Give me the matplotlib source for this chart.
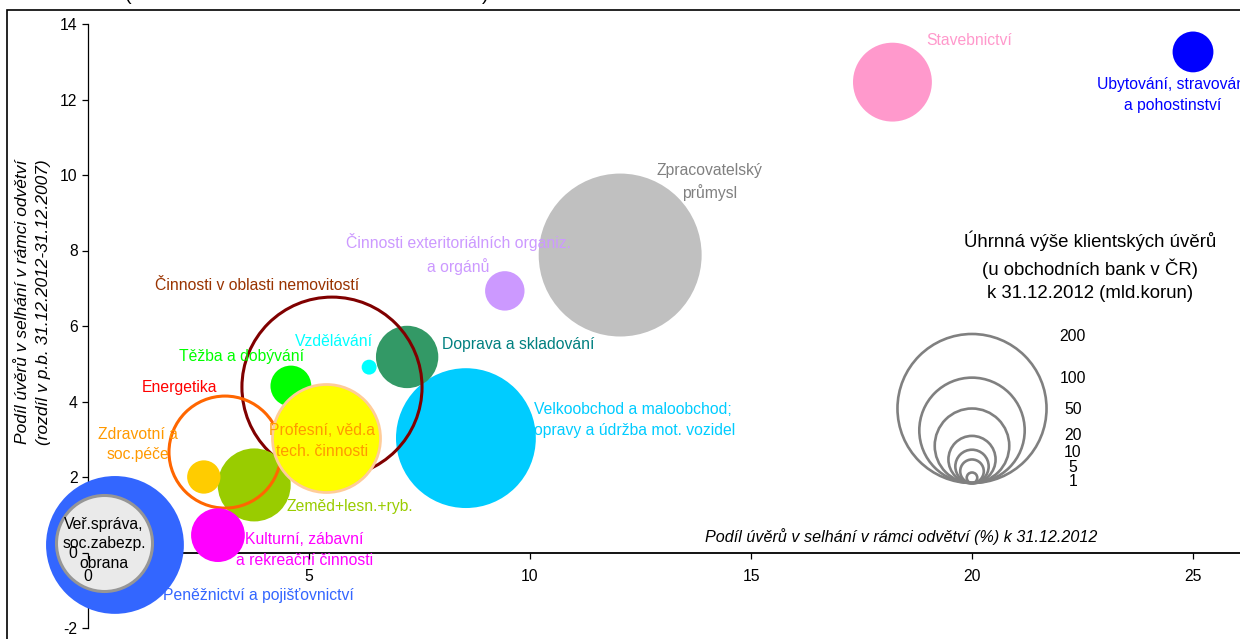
import numpy as np
import matplotlib.pyplot as plt
from matplotlib.patches import Rectangle

plt.rcParams['font.family'] = ['Liberation Sans', 'DejaVu Sans']
plt.rcParams['axes.unicode_minus'] = False

# sector data
sectors = ["Zpracovatelský\nprůmysl", "Stavebnictví", "Ubytování, stravování\na pohostinství",
           "Činnosti exteritoriálních organiz.\na orgánů",
           "Velkoobchod a maloobchod;\nopravy a údržba mot. vozidel", "Doprava a skladování",
           "Vzdělávání", "Těžba a dobývání", "Činnosti v oblasti nemovitostí", "Zeměd+lesn.+ryb.",
           "Energetika", "Zdravotní a\nsoc.péče", "Profesní, věd.a\ntech. činnosti",
           "Kulturní, zábavní\na rekreační činnosti", "Peněžnictví a pojišťovnictví",
           "Veř.správa,\nsoc.zabezp.\nobrana"]
npl_share = [12.04, 18.2, 25.0, 9.43, 8.55, 7.22, 6.36, 4.59, 5.52, 3.76, 3.10, 2.62, 5.38, 2.94, 0.61, 0.36]
npl_change = [7.88, 12.46, 13.26, 6.93, 3.03, 5.18, 4.91, 4.41, 4.38, 1.79, 2.66, 2.0, 3.03, 0.46, 0.2, 0.25]
loans = [239, 56, 15, 14, 176, 35, 2, 15, 292, 48, 113, 10, 105, 26, 171, 83]

legend_values = [200, 100, 50, 20, 10, 5, 1]
x_ticks = [0, 5, 10, 15, 20, 25]
y_ticks = [-2, 0, 2, 4, 6, 8, 10, 12, 14]

# styles
fill_colors = ["#C0C0C0", "#FF99CC", "#0000FF", "#CC99FF", "#00CCFF", "#339966", "#00FFFF", "#00FF00",
               "none", "#99CC00", "none", "#FFCC00", "#FFFF00", "#FF00FF", "#3366FF", "#EAEAEA"]
edge_colors = ["none", "none", "none", "none", "none", "none", "none", "none",
               "#800000", "none", "#FF6600", "none", "#FFCC99", "none", "none", "#969696"]
edge_widths = [0, 0, 0, 0, 0, 0, 0, 0, 2.2, 0, 2.2, 0, 2.0, 0, 0, 2.2]
label_colors = ["#808080", "#FF99CC", "#0000FF", "#CC99FF", "#00CCFF", "#008080", "#00FFFF", "#00FF00",
                "#993300", "#99CC00", "#FF0000", "#FF9900", "#FF9900", "#FF00FF", "#3366FF", "#000000"]
label_pos = [(14.07, 9.81, 'center'), (19.93, 13.55, 'center'), (24.55, 12.12, 'center'),
             (8.37, 7.91, 'center'), (10.09, 3.51, 'left'), (8.01, 5.5, 'left'),
             (5.57, 5.58, 'center'), (3.48, 5.18, 'center'), (3.82, 7.06, 'center'),
             (4.48, 1.21, 'left'), (2.06, 4.38, 'center'), (1.13, 2.86, 'center'),
             (5.29, 2.95, 'center'), (4.89, 0.07, 'center'), (3.85, -1.13, 'center'),
             (0.36, 0.23, 'center')]
legend_label_y = [5.73, 4.62, 3.78, 3.09, 2.64, 2.24, 1.87]

W, H = 1240, 639
fig = plt.figure(figsize=(W / 100, H / 100), dpi=100)
ax_left, ax_right, ax_top, ax_bottom = 88, 1240, 24, 628
ax = fig.add_axes([ax_left / W, (H - ax_bottom) / H, (ax_right - ax_left) / W, (ax_bottom - ax_top) / H])
px_per_x = 44.2
ax.set_xlim(0, (ax_right - ax_left) / px_per_x)
ax.set_ylim(-2, 14)
px_per_y = (ax_bottom - ax_top) / 16.0

# bubble area proportional to loans
px_per_sqrt = 10.54
size_k = (px_per_sqrt * 0.72) ** 2

for i in range(len(sectors)):
    ax.scatter(npl_share[i], npl_change[i], s=size_k * loans[i], facecolors=fill_colors[i],
               edgecolors=edge_colors[i], linewidths=edge_widths[i], zorder=3 + i * 0.01, clip_on=False)
    x, y, ha = label_pos[i]
    ax.text(x, y, sectors[i], color=label_colors[i], fontsize=11.3, ha=ha, va='center',
            multialignment=ha, linespacing=1.48 if i < 15 else 1.4, zorder=10)

# size legend
leg_x = 20
leg_bottom = 1.84
for v in legend_values:
    d = px_per_sqrt * np.sqrt(v)
    ax.scatter(leg_x, leg_bottom + d / 2 / px_per_y, s=size_k * v, facecolors='none',
               edgecolors='#808080', linewidths=1.9, zorder=3, clip_on=False)
for v, ly in zip(legend_values, legend_label_y):
    ax.text(22.28, ly, str(v), fontsize=11.3, ha='center', va='center', zorder=10)
ax.text(22.67, 7.59, "Úhrnná výše klientských úvěrů\n(u obchodních bank v ČR)\nk 31.12.2012 (mld.korun)",
        fontsize=13.4, ha='center', va='center', linespacing=1.45, zorder=10)

# axes crossing at zero
ax.spines['top'].set_visible(False)
ax.spines['right'].set_visible(False)
ax.spines['bottom'].set_position(('data', 0))
ax.spines['bottom'].set_linewidth(1.3)
ax.spines['left'].set_linewidth(0.9)
for sp in ax.spines.values():
    sp.set_zorder(1)
ax.xaxis.set_zorder(12)
ax.yaxis.set_zorder(12)
ax.set_xticks(x_ticks)
ax.set_yticks(y_ticks)
ax.tick_params(axis='x', direction='out', length=4.5, width=0.9, labelsize=11.3, pad=7.5)
ax.tick_params(axis='y', direction='out', length=4, width=0.9, labelsize=11.3, pad=3.5)
ax.patch.set_visible(False)

ax.text(0.5 * (705 + 1098) / px_per_x - ax_left / px_per_x, 0.43, "Podíl úvěrů v selhání v rámci odvětví (%) k 31.12.2012",
        fontsize=11.6, style='italic', ha='center', va='center', zorder=10)
fig.text(33 / W, 1 - 302 / H, "Podíl úvěrů v selhání v rámci odvětví\n(rozdíl v p.b. 31.12.2012-31.12.2007)",
         fontsize=12.5, style='italic', rotation=90, ha='center', va='center', linespacing=1.5)

# outer frame and cut-off title
fig.patches.append(Rectangle((7 / W, -0.1), 1.2, 1.1 - 10 / H, transform=fig.transFigure,
                             fill=False, edgecolor='black', linewidth=1.2))
fig.text(128 / W, 1.0, "(", fontsize=14, ha='center', va='baseline')
fig.text(485 / W, 1.0, ")", fontsize=14, ha='center', va='baseline')

fig.savefig("out.png", dpi=100)
